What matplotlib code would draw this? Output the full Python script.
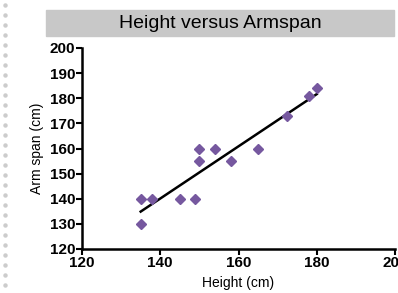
import numpy as np
import matplotlib
matplotlib.use('Agg')
import matplotlib.pyplot as plt
from matplotlib.patches import Rectangle
from matplotlib.lines import Line2D

plt.rcParams['font.family'] = ['Liberation Sans', 'DejaVu Sans']

'data'
height = [135, 135, 138, 145, 149, 150, 150, 154, 158, 165, 172.5, 178, 180]
armspan = [140, 130, 140, 140, 140, 160, 155, 160, 155, 160, 173, 181, 184]
xticks = [120, 140, 160, 180, 200]
yticks = [120, 130, 140, 150, 160, 170, 180, 190, 200]

fig = plt.figure(figsize=(3.98, 2.93), dpi=100)

# dotted border at the left edge
dots_y = np.arange(5, 290, 10) / 293
fig.add_artist(Line2D([5 / 398] * len(dots_y), 1 - dots_y, transform=fig.transFigure,
                      linestyle='none', marker='o', ms=3.2, color='#cccccc', mec='none'))

# title bar
fig.add_artist(Rectangle((46 / 398, 1 - 36 / 293), 348 / 398, 26 / 293,
                         transform=fig.transFigure, color='#c8c8c8', zorder=0))
fig.text(220 / 398, 1 - 23 / 293, 'Height versus Armspan', ha='center', va='center',
         fontsize=14)

ax = fig.add_axes([82 / 398, 1 - 249 / 293, 313 / 398, 201 / 293])
ax.plot(height, armspan, linestyle='none', marker='D', ms=5.2, color='#76589f', zorder=3)

# linear fit
k, b = np.polyfit(height, armspan, 1)
xs = np.array([min(height), max(height)])
ax.plot(xs, k * xs + b, color='black', lw=1.8, zorder=2)

ax.set_xlim(120, 200)
ax.set_ylim(120, 200)
ax.set_xticks(xticks)
ax.set_yticks(yticks)
for s in ['top', 'right']:
    ax.spines[s].set_visible(False)
for s in ['left', 'bottom']:
    ax.spines[s].set_linewidth(1.8)
ax.tick_params(direction='out', length=4, width=1.5, labelsize=11, pad=1)
for lab in ax.get_xticklabels() + ax.get_yticklabels():
    lab.set_fontweight('bold')
ax.set_xlabel('Height (cm)', fontsize=10, labelpad=4)
ax.set_ylabel('Arm span (cm)', fontsize=10, labelpad=4)
ax.patch.set_alpha(0)

fig.savefig('out.png', dpi=100)
